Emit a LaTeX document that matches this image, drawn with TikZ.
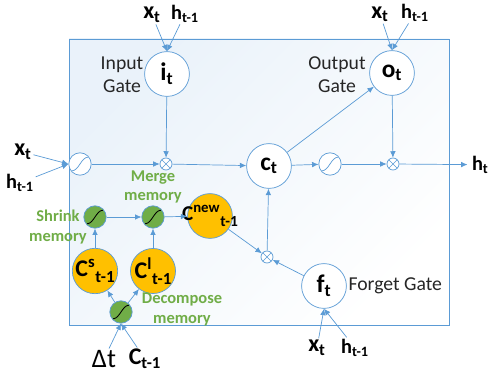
\documentclass[tikz,border=0pt]{standalone}
\usepackage{fontspec}
\setmainfont{Carlito}
\usetikzlibrary{arrows.meta, calc}
\definecolor{lstmblue}{HTML}{5B9BD5}
\definecolor{memgreen}{HTML}{70AD47}
\definecolor{memorange}{HTML}{FFC000}
\definecolor{gatetext}{HTML}{262626}

\begin{document}
\begin{tikzpicture}[>={Latex[length=1.6mm, width=1.4mm]}, line width=0.5pt,
  every node/.style={font=\fontsize{14}{16.5}\selectfont, text=gatetext},
  conn/.style={->, draw=lstmblue},
  gate/.style={draw=lstmblue, fill=white, circle, minimum size=1.12cm, inner sep=0pt, font=\bfseries\fontsize{18}{18}\selectfont, text=black},
  mem/.style={draw=lstmblue, fill=memorange, circle, minimum size=1.12cm, inner sep=0pt, font=\bfseries\fontsize{17}{17}\selectfont, text=black},
  tanhc/.style={draw=lstmblue, fill=white, circle, minimum size=0.56cm, inner sep=0pt,
    path picture={\draw[lstmblue] ($(path picture bounding box.center)+(-0.2,-0.17)$) .. controls +(0.17,0) and +(-0.17,0) .. ($(path picture bounding box.center)+(0.2,0.17)$);}},
  sigc/.style={draw=lstmblue, fill=memgreen, circle, minimum size=0.56cm, inner sep=0pt,
    path picture={\draw[black, line width=0.6pt] ($(path picture bounding box.center)+(-0.2,-0.17)$) .. controls +(0.17,0) and +(-0.17,0) .. ($(path picture bounding box.center)+(0.2,0.17)$);}},
  mulc/.style={draw=lstmblue, fill=white, circle, minimum size=0.3cm, inner sep=0pt,
    path picture={\draw[lstmblue] (path picture bounding box.north west) -- (path picture bounding box.south east) (path picture bounding box.north east) -- (path picture bounding box.south west);}},
  xlbl/.style={font=\bfseries\fontsize{17}{17}\selectfont, text=black, inner sep=1pt},
  hlbl/.style={font=\bfseries\fontsize{14.5}{14.5}\selectfont, text=black, inner sep=1pt},
  greenlbl/.style={font=\bfseries\fontsize{11.7}{14}\selectfont, text=memgreen, align=center}]

  \useasboundingbox (0,0) rectangle (12.225,9.375);
  \draw[lstmblue, top color=lstmblue!13, bottom color=white, shading angle=45] (1.725,1.25) rectangle (11.225,8.4);

  \node[gate] (it) at (4.175,7.525) {i\textsubscript{t}};
  \node[gate] (ot) at (9.8,7.55) {o\textsubscript{t}};
  \node[gate] (ct) at (6.725,5.225) {c\textsubscript{t}};
  \node[gate] (ft) at (8.1,2.225) {f\textsubscript{t}};
  \node[align=center] (itlbl) at (3.05,7.5) {Input\\Gate};
  \node[align=center] (otlbl) at (8.425,7.5) {Output\\Gate};
  \node[anchor=west, inner sep=1pt] (ftlbl) at (ft.east) {Forget Gate};

  \node[tanhc] (tanhin) at (2.0,5.275) {};
  \node[mulc] (mulin) at (4.15,5.275) {};
  \node[tanhc] (tanhout) at (8.25,5.275) {};
  \node[mulc] (mulout) at (9.825,5.275) {};
  \node[mulc] (mulfg) at (6.675,2.95) {};

  \node[sigc] (shrink) at (2.375,3.95) {};
  \node[sigc] (merge) at (3.825,3.95) {};
  \node[sigc] (decomp) at (3.025,1.575) {};
  \node[mem, inner sep=-0.2cm, font=\bfseries\fontsize{15}{15}\selectfont] (cnew) at (5.25,3.975) {C\textsuperscript{new}\raisebox{-0.6ex}{\fontsize{11}{11}\selectfont t-1}};
  \node[mem] (cs) at (2.375,2.6) {C\textsuperscript{s}\raisebox{-0.5ex}{\fontsize{12}{12}\selectfont t-1}};
  \node[mem] (cl) at (3.825,2.6) {C\textsuperscript{l}\raisebox{-0.5ex}{\fontsize{12}{12}\selectfont t-1}};
  \node[greenlbl] (shrinklbl) at (1.45,3.7) {Shrink\\memory};
  \node[greenlbl] (mergelbl) at (3.825,4.7) {Merge\\memory};
  \node[greenlbl] (decomplbl) at (4.55,1.63) {Decompose\\memory};

  \node[xlbl] (xi) at (3.8,9.0) {x\textsubscript{t}};
  \node[hlbl] (hi) at (4.625,9.03) {h\textsubscript{t-1}};
  \node[xlbl] (xo) at (9.5,9.02) {x\textsubscript{t}};
  \node[hlbl] (ho) at (10.375,9.05) {h\textsubscript{t-1}};
  \node[xlbl] (xl) at (0.575,5.575) {x\textsubscript{t}};
  \node[hlbl] (hl) at (0.5,4.8) {h\textsubscript{t-1}};
  \node[xlbl] (xf) at (7.925,0.68) {x\textsubscript{t}};
  \node[hlbl] (hf) at (8.875,0.68) {h\textsubscript{t-1}};
  \node[xlbl, font=\fontsize{19}{19}\selectfont] (dt) at (2.6,0.4) {Δt};
  \node[xlbl] (cprev) at (3.625,0.4) {C\textsubscript{t-1}};
  \node[hlbl, anchor=east, inner sep=0pt] (ht) at (12.225,5.26) {h\textsubscript{t}};

  \draw[conn] (xi) -- (it.north);
  \draw[conn] (hi) -- (it.north);
  \draw[conn] (xo) -- (ot.north);
  \draw[conn] (ho) -- (ot.north);
  \draw[conn] (xl) -- (tanhin.west);
  \draw[conn] (hl) -- (tanhin.west);
  \draw[conn] (xf) -- (ft.south);
  \draw[conn] (hf) -- (ft.south);
  \draw[conn] (dt) -- (decomp.south);
  \draw[conn] (cprev) -- (decomp.south);

  \draw[conn] (tanhin) -- (mulin);
  \draw[conn] (it) -- (mulin);
  \draw[conn] (mulin) -- (ct);
  \draw[conn] (ct) -- (tanhout);
  \draw[conn] (tanhout) -- (mulout);
  \draw[conn] (ot) -- (mulout);
  \draw[conn] (mulout) -- ([xshift=-3pt]ht.west);
  \draw[conn] (ct) -- (ot);
  \draw[conn] (mulfg) -- (ct);
  \draw[conn] (ft) -- (mulfg);
  \draw[conn] (cnew) -- (mulfg);

  \draw[conn] (decomp) -- (cs);
  \draw[conn] (decomp) -- (cl);
  \draw[conn] (cs) -- (shrink);
  \draw[conn] (cl) -- (merge);
  \draw[conn] (shrink) -- (merge);
  \draw[conn] (merge) -- (cnew);
\end{tikzpicture}
\end{document}
